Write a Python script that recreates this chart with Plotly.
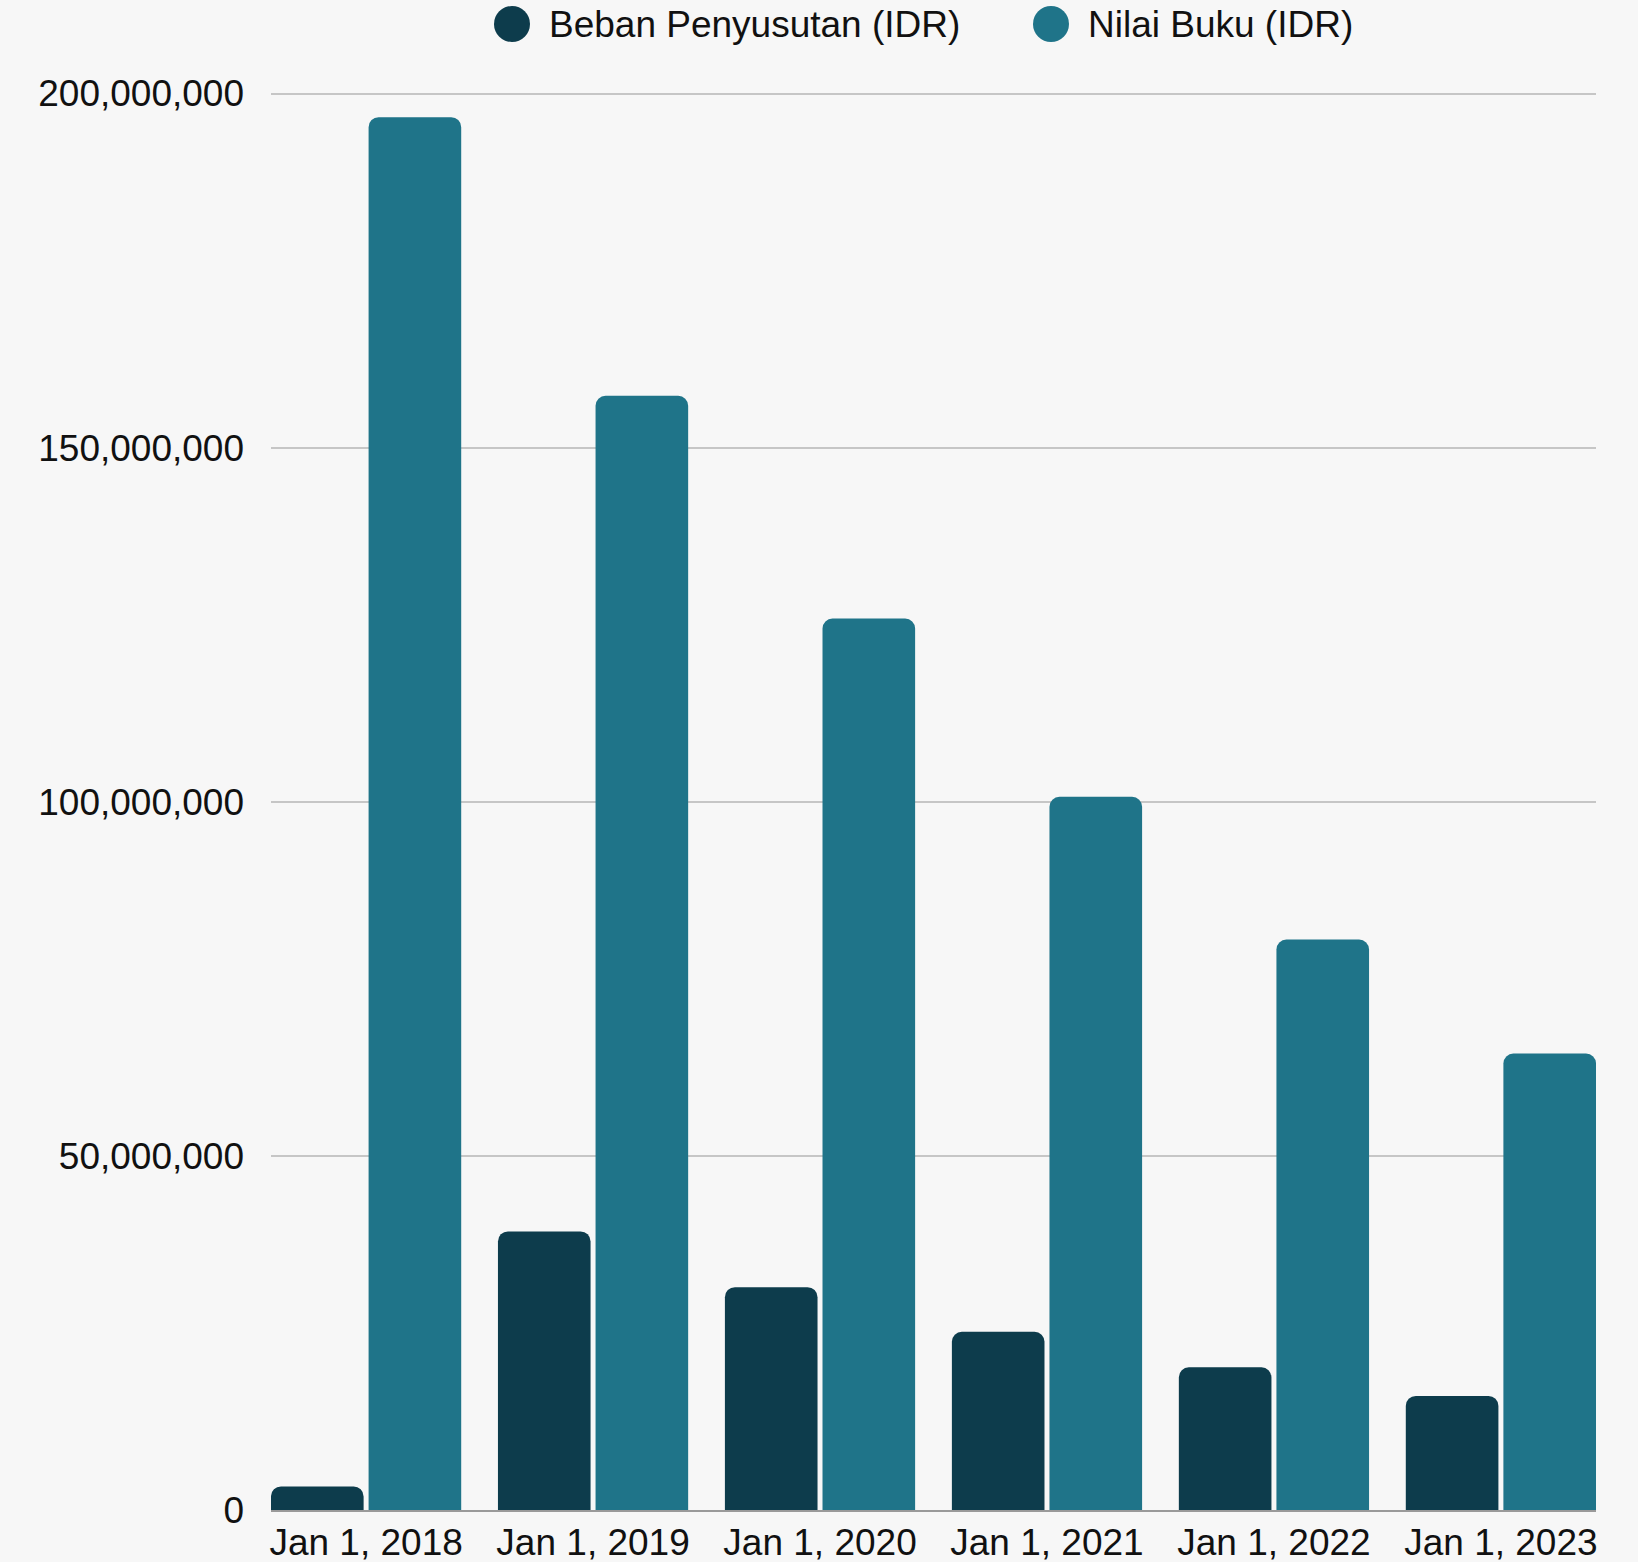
import plotly.graph_objects as go

# ---- data ----
categories = ["Jan 1, 2018", "Jan 1, 2019", "Jan 1, 2020", "Jan 1, 2021", "Jan 1, 2022", "Jan 1, 2023"]
beban_penyusutan = [3333333, 39333333, 31466667, 25173333, 20138667, 16110933]
nilai_buku = [196666667, 157333333, 125866667, 100693333, 80554667, 64443733]
series_names = ["Beban Penyusutan (IDR)", "Nilai Buku (IDR)"]
y_tick_values = [0, 50000000, 100000000, 150000000, 200000000]
y_max = 200500000

# ---- style ----
W, H = 1638, 1562
ML, MR, MT, MB = 271, 42, 90, 52
C_DARK = "#0d3c4c"
C_TEAL = "#1f7489"
BG = "#f7f7f7"
FONT = "Liberation Sans, Arial, sans-serif"
FS = 37

fig = go.Figure()
fig.add_trace(go.Bar(x=categories, y=beban_penyusutan, name=series_names[0],
                     marker=dict(color=C_DARK, cornerradius=10, line=dict(width=0)),
                     showlegend=False))
fig.add_trace(go.Bar(x=categories, y=nilai_buku, name=series_names[1],
                     marker=dict(color=C_TEAL, cornerradius=10, line=dict(width=0)),
                     showlegend=False))

pw = W - ML - MR
ph = H - MT - MB

def px_x(px):
    return (px - ML) / pw

def px_y(py):
    return (H - MB - py) / ph

# manual legend with circle markers
legend_items = [(512, C_DARK, series_names[0]), (1051, C_TEAL, series_names[1])]
shapes = []
annotations = []
for cx, col, label in legend_items:
    cy = 24
    r = 18
    shapes.append(dict(type="circle", xref="paper", yref="paper",
                       x0=px_x(cx - r), x1=px_x(cx + r), y0=px_y(cy + r), y1=px_y(cy - r),
                       fillcolor=col, line=dict(width=0), layer="above"))
    annotations.append(dict(xref="paper", yref="paper", x=px_x(cx + 35), y=px_y(cy),
                            xanchor="left", yanchor="middle", text=label, showarrow=False,
                            font=dict(family=FONT, size=FS, color="#111111")))

gap = 0.14
fig.update_layout(
    width=W, height=H,
    margin=dict(l=ML, r=MR, t=MT, b=MB, pad=0, autoexpand=False),
    paper_bgcolor=BG,
    plot_bgcolor="rgba(0,0,0,0)",
    barmode="group",
    bargap=gap,
    bargroupgap=0.051,
    font=dict(family=FONT, size=FS, color="#111111"),
    shapes=shapes,
    annotations=annotations,
    xaxis=dict(type="category", range=[-0.419, 5.419], automargin=False,
               showgrid=False, showline=True, linecolor="#9a9a9a", linewidth=2,
               ticks="", ticklabelstandoff=-1, zeroline=False,
               tickfont=dict(family=FONT, size=FS, color="#111111")),
    yaxis=dict(range=[0, y_max], tickvals=y_tick_values, tickformat=",", automargin=False,
               showgrid=True, gridcolor="#c6c6c6", gridwidth=1.5, zeroline=False,
               showline=False, ticks="", ticklabelstandoff=26,
               tickfont=dict(family=FONT, size=FS, color="#111111")),
)

fig.write_html(
    "out.html",
    config={"displayModeBar": False},
    post_script="document.body.style.margin='0';document.body.style.background='" + BG + "';"
                "document.documentElement.style.overflow='hidden';",
)
